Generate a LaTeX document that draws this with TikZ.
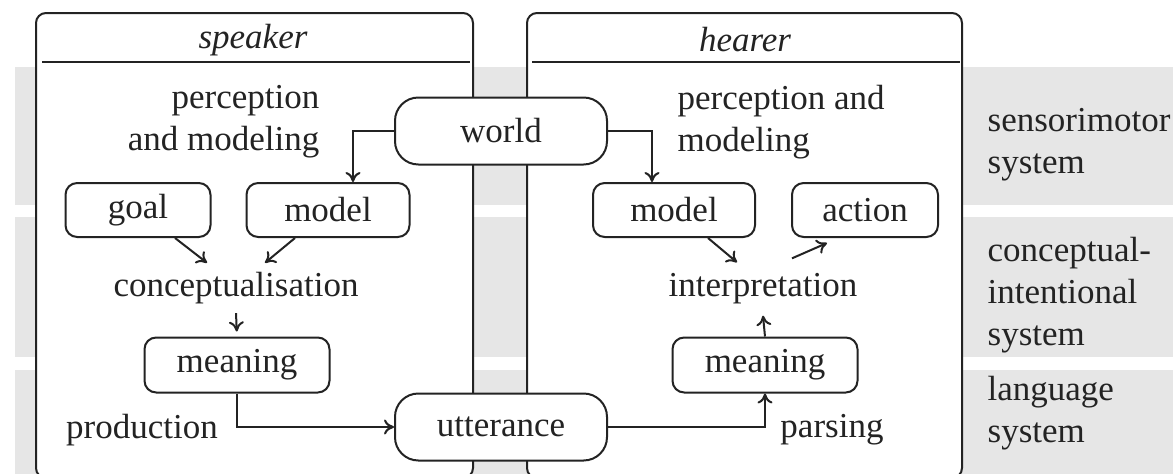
\documentclass[tikz,border=0pt]{standalone}
\usepackage{fontspec}
\setmainfont{Liberation Serif}
\usetikzlibrary{arrows.meta,calc}
\definecolor{bandgray}{RGB}{230,230,230}
\definecolor{ink}{RGB}{35,35,35}
\begin{document}
\begin{tikzpicture}[x=0.3pt,y=-0.3pt,
  font=\fontsize{10.5}{12.6}\selectfont,
  frame/.style={draw=ink, line width=0.6pt, fill=white, rounded corners=3pt},
  box/.style={draw=ink, line width=0.6pt, fill=white, rounded corners=3.5pt, inner sep=0pt,
    minimum height=16.2pt, text=ink},
  pill/.style={box, rounded corners=7pt, minimum width=63.6pt, minimum height=20.1pt},
  txt/.style={inner sep=0pt, text=ink},
  side/.style={txt, anchor=west, align=left},
  conn/.style={draw=ink, line width=0.6pt, -{To[length=3pt,width=4.5pt]}}]
\useasboundingbox (0,0) rectangle (1173,474);
% bands
\fill[bandgray] (15,67) rectangle (1173,205);
\fill[bandgray] (15,217) rectangle (1173,357);
\fill[bandgray] (15,370) rectangle (1173,474);
% frames
\draw[frame] (36,13) rectangle (473,478);
\draw[frame] (527,13) rectangle (962,478);
\draw[draw=ink, line width=0.6pt] (42,62) -- (470,62);
\draw[draw=ink, line width=0.6pt] (532,62) -- (960,62);
\node[txt, font=\fontsize{10.5}{12.6}\selectfont\itshape] (spk) at (253,40) {speaker};
\node[txt, font=\fontsize{10.5}{12.6}\selectfont\itshape] (hea) at (745,40) {hearer};
% nodes
\node[pill] (world) at (501,131) {world};
\node[pill] (utt) at (501,427) {utterance};
\node[box, minimum width=43.5pt] (goal) at (138,210) {goal};
\node[box, minimum width=48.9pt] (modelS) at (328,210) {model};
\node[box, minimum width=55.5pt, minimum height=16.5pt] (meanS) at (237,365) {meaning};
\node[box, minimum width=48.6pt] (modelH) at (674,210) {model};
\node[box, minimum width=43.8pt] (action) at (865,210) {action};
\node[box, minimum width=55.5pt, minimum height=16.5pt] (meanH) at (765,365) {meaning};
% texts
\node[txt, anchor=east, align=right] (percS) at (320,122) {perception\\and modeling};
\node[txt, anchor=west, align=left] (percH) at (677,122) {perception and\\modeling};
\node[txt, minimum height=14.7pt] (concept) at (236,288) {conceptualisation};
\node[txt, minimum height=15.6pt] (interp) at (763,289) {interpretation};
\node[txt] (prod) at (142,430) {production};
\node[txt] (pars) at (832,430) {parsing};
\node[side] (sens) at (987,145) {sensorimotor\\system};
\node[side] (conc) at (987,295) {conceptual-\\intentional\\system};
\node[side] (lang) at (987,413) {language\\system};
% connectors
\draw[conn] (world.west) -| ($(modelS.north)+(25,0)$);
\draw[conn] (world.east) -| ($(modelH.north)+(-22,0)$);
\draw[conn] ($(goal.south)+(37,0)$) -- ($(concept.north)+(-29,0)$);
\draw[conn] ($(modelS.south)+(-33,0)$) -- ($(concept.north)+(29,0)$);
\draw[conn, shorten >=1.5pt] (concept.south) -- (meanS.north);
\draw[conn] (meanS.south) |- (utt.west);
\draw[conn] (utt.east) -| (meanH.south);
\draw[conn] (meanH.north) -- (interp.south);
\draw[conn] ($(modelH.south)+(34,0)$) -- ($(interp.north)+(-26,0)$);
\draw[conn] ($(interp.north)+(29,-4)$) -- ($(action.south)+(-38,5)$);
\end{tikzpicture}
\end{document}
